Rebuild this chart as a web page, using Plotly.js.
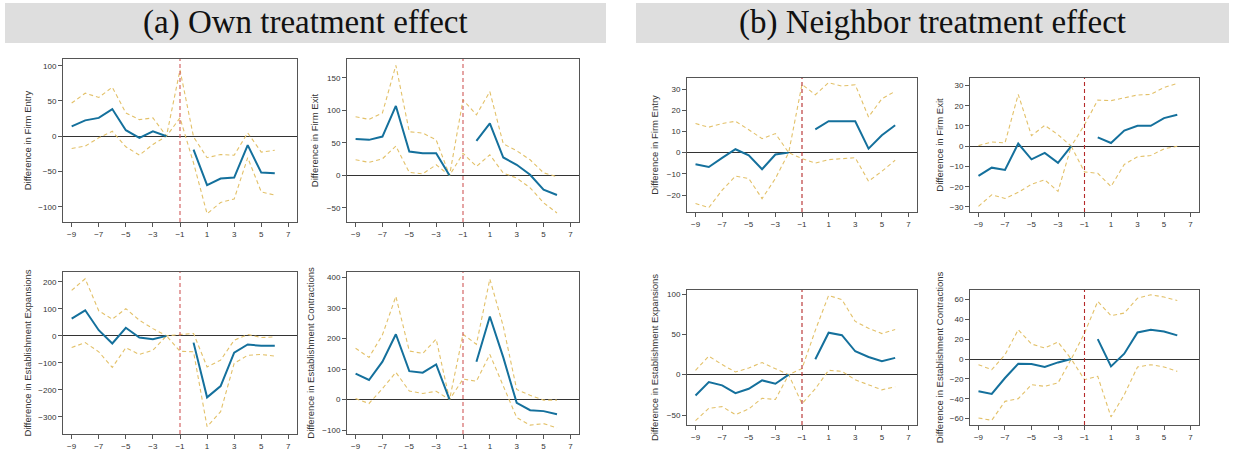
<!DOCTYPE html>
<html>
<head>
<meta charset="utf-8">
<script src="https://cdn.plot.ly/plotly-3.0.1.min.js"></script>
<style>html,body{margin:0;padding:0;background:#fff;}#chart{width:1233px;height:454px;}</style>
</head>
<body>
<div id="chart"></div>
<script>
// event time (years relative to treatment)
const years = [-9,-8,-7,-6,-5,-4,-3,-2,-1,0,1,2,3,4,5,6];
const xTickVals = [-9,-7,-5,-3,-1,1,3,5,7];

// (a) Own treatment effect
const ownEntryEst   = [14, 22.5, 26, 38.5, 8.5, -2.3, 7, 0, null, -19, -69.5, -60, -58.7, -12.7, -51.6, -52.6];
const ownEntryUpper = [47, 61, 55, 69.5, 33, 23.5, 26, 0, 94, -1, -30.5, -26, -27, 4.7, -22.5, -20];
const ownEntryLower = [-17.4, -14, -2.3, 7, -15, -26.8, -11.7, 0, 26, -38, -110, -94, -89, -30.5, -79, -83.6];

const ownExitEst   = [56, 54.6, 59.7, 106.6, 36.7, 34, 34, 0, null, 53, 80, 27.5, 16.3, 1, -22, -30];
const ownExitUpper = [90, 86, 96, 169, 67, 65, 54.6, 0, 116, 93, 128.6, 48.5, 37.8, 24, 4, -2];
const ownExitLower = [24, 20, 25.5, 45, 4.6, 2.5, 16.3, 0, 34, 13.8, 31.6, 3.6, -4, -19, -42, -57.6];

const ownExpEst   = [64, 95, 21, -28, 30, -6, -12, 0, null, -25, -228, -186, -62, -32, -37, -37];
const ownExpUpper = [169, 212, 93, 62, 101, 58, 27, 0, 5, 9, -115, -90, -16, 5, -6, -4];
const ownExpLower = [-43, -25, -59, -117, -44, -69, -53, 0, -57, -59, -337, -281, -102, -72, -69, -75];

const ownContrEst   = [85, 64, 124, 214, 93, 88, 115, 0, null, 124, 272, 138, -11, -35, -38, -48];
const ownContrUpper = [168, 138, 212, 338, 159, 151, 198, 0, 214, 181, 395, 240, 33, 14, -2, -2];
const ownContrLower = [3, -13, 36, 89, 28, 20, 27, 0, 67, 60, 148, 45, -59, -84, -79, -93];

// (b) Neighbor treatment effect
const nbrEntryEst   = [-5.5, -6.8, -2.5, 1.6, -1.3, -7.8, -0.9, 0, null, 11, 14.8, 14.8, 14.8, 1.9, 8.2, 12.9];
const nbrEntryUpper = [13.7, 12, 13.7, 14.8, 10.8, 6.6, 9, 0, 32.2, 27.3, 33, 31.4, 32, 16.8, 25.4, 28.9];
const nbrEntryLower = [-24, -25.9, -17.7, -11.1, -12.2, -21.7, -12.2, 0, -2.8, -4.9, -3.3, -2.8, -2.4, -13.5, -8.8, -3.6];

const nbrExitEst   = [-14.7, -10.6, -11.7, 1.3, -6.5, -3.3, -8.2, 0, null, 4.4, 1.6, 7.7, 10.1, 10.1, 13.9, 15.5];
const nbrExitUpper = [0.3, 2.1, 1.6, 25.6, 5.2, 10.3, 5.7, 0, 10.6, 22.8, 22.5, 24, 25.3, 25.6, 29, 31];
const nbrExitLower = [-29.7, -24, -25.8, -22.8, -18.8, -16.6, -22.3, 0, -12.7, -13.4, -19.9, -9, -5.2, -4.6, -1.3, 0];

const nbrExpEst   = [-25.8, -9.2, -13.3, -22.9, -17.5, -7.1, -11.3, 0, null, 19.2, 52, 49, 29, 22, 16.7, 20.8];
const nbrExpUpper = [5.4, 23, 12.5, 3.3, 8.3, 15, 7.5, 0, 7.5, 55, 98.3, 93, 66, 57.5, 51, 56];
const nbrExpLower = [-57, -41.7, -39.6, -49.6, -42.5, -29.2, -30.8, 0, -36, -17.5, 5.4, 4.2, -6.3, -12.5, -18.8, -15];

const nbrContrEst   = [-32.5, -35.2, -19.1, -4.7, -5, -8, -3.4, 0, null, 20.1, -7.4, 5.4, 26.8, 29.5, 27.8, 23.8];
const nbrContrUpper = [-5.7, -10.7, 4.4, 29.5, 15.1, 11.1, 17.1, 0, 26.1, 58, 43.6, 46.3, 61.3, 64.7, 62.4, 59];
const nbrContrLower = [-59.3, -61.7, -42.6, -39.9, -25.8, -27.5, -24.1, 0, -20.8, -17.4, -58.3, -35.9, -8, -5.7, -8, -12.4];

const panelTitles = ["(a) Own treatment effect", "(b) Neighbor treatment effect"];
const yTitles = ["Difference in Firm Entry", "Difference in Firm Exit",
                 "Difference in Establishment Expansions", "Difference in Establishment Contractions",
                 "Difference in Firm Entry", "Difference in Firm Exit",
                 "Difference in Establishment Expansions", "Difference in Establishment Contractions"];

const W = 1233, H = 454;
const panels = [
  {est: ownEntryEst, up: ownEntryUpper, lo: ownEntryLower, box: [63, 297, 59, 222], yr: [-121.7, 109.5], dt: 50, sep: '#d05a5a', so: 5},
  {est: ownExitEst, up: ownExitUpper, lo: ownExitLower, box: [347, 579, 59, 222], yr: [-71.5, 178.7], dt: 50, sep: '#d05a5a', so: 6},
  {est: ownExpEst, up: ownExpUpper, lo: ownExpLower, box: [63, 297, 272, 434], yr: [-364, 237], dt: 100, sep: '#d05a5a', so: 5},
  {est: ownContrEst, up: ownContrUpper, lo: ownContrLower, box: [347, 579, 272, 434], yr: [-113, 418], dt: 100, sep: '#d05a5a', so: 6},
  {est: nbrEntryEst, up: nbrEntryUpper, lo: nbrEntryLower, box: [687, 917, 78, 212], yr: [-28, 35.2], dt: 10, sep: '#b52a2a', so: 6},
  {est: nbrExitEst, up: nbrExitUpper, lo: nbrExitLower, box: [970, 1199, 78, 212], yr: [-32.5, 33.7], dt: 10, sep: '#b52a2a', so: 4},
  {est: nbrExpEst, up: nbrExpUpper, lo: nbrExpLower, box: [687, 917, 290, 425], yr: [-62.4, 105], dt: 50, sep: '#b52a2a', so: 6},
  {est: nbrContrEst, up: nbrContrUpper, lo: nbrContrLower, box: [970, 1199, 290, 425], yr: [-66.4, 69.5], dt: 20, sep: '#b52a2a', so: 4}
];

const blue = '#14709c';
const gold = '#e3c169';
const textCol = '#333333';
const fontFam = '"Liberation Sans", Arial, sans-serif';

const traces = [];
const layout = {
  width: W, height: H,
  margin: {l: 0, r: 0, t: 0, b: 0},
  paper_bgcolor: '#ffffff', plot_bgcolor: '#ffffff',
  showlegend: false,
  font: {family: fontFam, size: 8, color: textCol},
  shapes: [], annotations: []
};

panels.forEach((p, i) => {
  const n = i + 1;
  const xa = 'x' + (n === 1 ? '' : n), ya = 'y' + (n === 1 ? '' : n);
  const xk = 'xaxis' + (n === 1 ? '' : n), yk = 'yaxis' + (n === 1 ? '' : n);
  [[p.up, gold, 1.1, '4px,3px'], [p.lo, gold, 1.1, '4px,3px'], [p.est, blue, 2, 'solid']].forEach(s => {
    traces.push({
      type: 'scatter', mode: 'lines', x: years, y: s[0], xaxis: xa, yaxis: ya,
      connectgaps: false, hoverinfo: 'x+y',
      line: {color: s[1], width: s[2], dash: s[3]}
    });
  });
  const [l, r, t, b] = p.box;
  layout[xk] = {
    domain: [l / W, r / W], anchor: ya, range: [-9.64, 7.64],
    tickmode: 'array', tickvals: xTickVals, ticks: 'outside', ticklen: 4, tickwidth: 1, tickcolor: '#555',
    showline: true, mirror: true, linecolor: '#555', linewidth: 1,
    showgrid: false, zeroline: false,
    tickfont: {family: fontFam, size: 8, color: textCol}
  };
  layout[yk] = {
    domain: [1 - b / H, 1 - t / H], anchor: xa, range: p.yr,
    tick0: 0, dtick: p.dt, ticks: 'outside', ticklen: 4, tickwidth: 1, tickcolor: '#555',
    showline: true, mirror: true, linecolor: '#555', linewidth: 1,
    showgrid: false, zeroline: true, zerolinecolor: '#333', zerolinewidth: 1,
    tickfont: {family: fontFam, size: 8, color: textCol},
    title: {text: yTitles[i], font: {family: fontFam, size: 9.5, color: textCol}, standoff: p.so}
  };
  layout.shapes.push({
    type: 'line', xref: xa, yref: ya + ' domain', x0: -1, x1: -1, y0: 0, y1: 1,
    line: {color: p.sep, width: 1.1, dash: '4px,3px'}
  });
});

// header bars
[[5, 606], [636, 1229]].forEach((bx, k) => {
  layout.shapes.push({
    type: 'rect', xref: 'paper', yref: 'paper', layer: 'below',
    x0: bx[0] / W, x1: bx[1] / W, y0: 1 - 43 / H, y1: 1 - 3 / H,
    fillcolor: '#dedede', line: {width: 0}
  });
  layout.annotations.push({
    xref: 'paper', yref: 'paper', x: (bx[0] + bx[1]) / 2 / W, y: 1 - 23 / H,
    xanchor: 'center', yanchor: 'middle', showarrow: false,
    text: panelTitles[k],
    font: {family: '"Liberation Serif", "Times New Roman", serif', size: 33, color: '#111'}
  });
});

Plotly.newPlot('chart', traces, layout, {displayModeBar: false, staticPlot: true});
</script>
</body>
</html>
